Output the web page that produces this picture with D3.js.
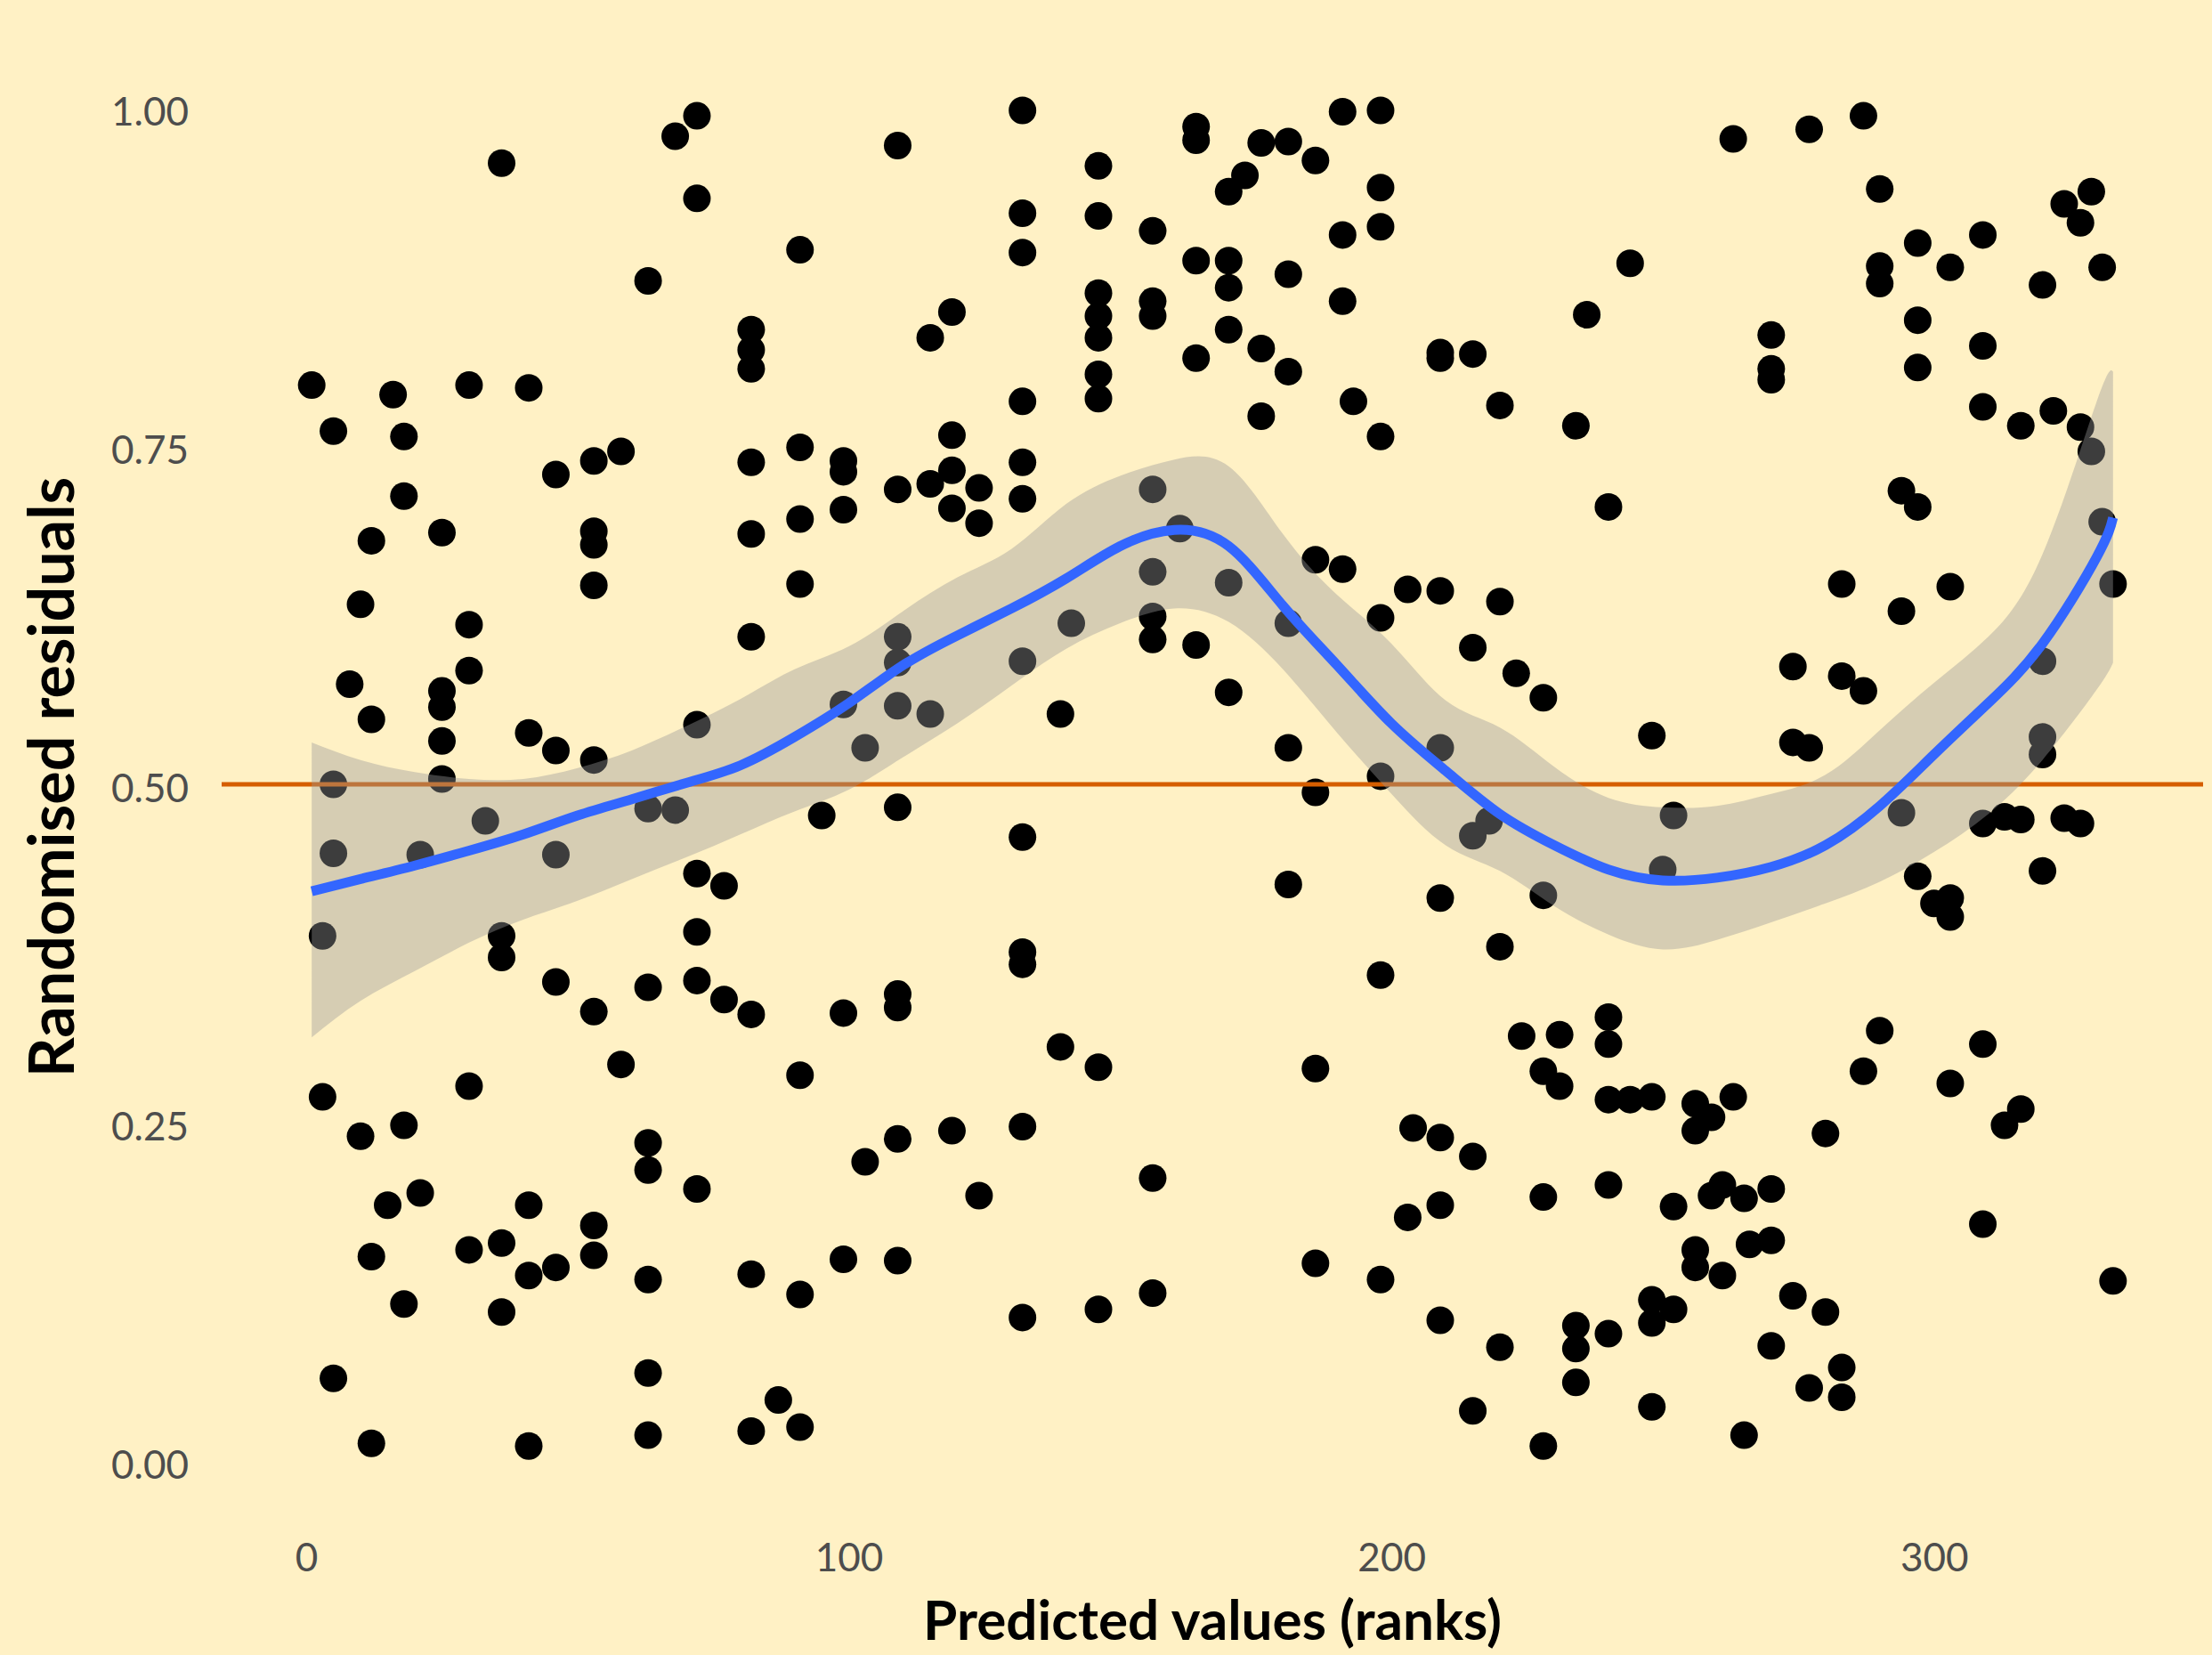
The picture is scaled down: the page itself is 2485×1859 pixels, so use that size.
<!DOCTYPE html>
<html>
<head>
<meta charset="utf-8">
<script src="https://cdn.jsdelivr.net/npm/d3@7"></script>
<style>
  body { margin: 0; background: #fff1c5; }
  svg { display: block; }
  .tick text { fill: #4d4d4d; font-family: "Lato", "Noto Sans", sans-serif; }
  .axisTitle { font-family: "Lato", "Noto Sans", sans-serif; font-weight: 700; fill: #000; }
</style>
</head>
<body>
<div id="chart"></div>
<script>
// residual columns: [rank of predicted value, [randomised residuals at that rank]]
var residColumns = [
  [1, [0.795]], [3, [0.388, 0.269]], [5, [0.761, 0.500, 0.449, 0.061]], [8, [0.574]],
  [10, [0.633, 0.240]], [12, [0.680, 0.548, 0.151, 0.013]], [15, [0.189]], [16, [0.788]],
  [18, [0.757, 0.713, 0.248, 0.116]], [21, [0.448, 0.198]],
  [25, [0.686, 0.569, 0.557, 0.532, 0.504]], [30, [0.795, 0.618, 0.584, 0.277, 0.156]],
  [33, [0.473]], [36, [0.959, 0.388, 0.372, 0.161, 0.110]],
  [41, [0.793, 0.538, 0.189, 0.137, 0.011]], [46, [0.729, 0.525, 0.448, 0.354, 0.143]],
  [53, [0.739, 0.687, 0.677, 0.647, 0.518, 0.332, 0.174, 0.152]], [58, [0.746, 0.293]],
  [63, [0.872, 0.482, 0.350, 0.235, 0.215, 0.134, 0.065, 0.019]], [68, [0.979, 0.481]],
  [72, [0.994, 0.933, 0.544, 0.434, 0.391, 0.355, 0.201]], [77, [0.425, 0.341]],
  [82, [0.836, 0.821, 0.807, 0.738, 0.685, 0.609, 0.330, 0.138, 0.022]], [87, [0.045]],
  [91, [0.895, 0.749, 0.696, 0.648, 0.285, 0.123, 0.025]], [95, [0.477]],
  [99, [0.739, 0.731, 0.703, 0.559, 0.331, 0.149]], [103, [0.527, 0.221]],
  [109, [0.972, 0.718, 0.609, 0.590, 0.558, 0.483, 0.345, 0.335, 0.238, 0.148]],
  [115, [0.830, 0.722, 0.552]], [119, [0.849, 0.758, 0.732, 0.704, 0.244]],
  [124, [0.719, 0.693, 0.196]],
  [132, [0.998, 0.922, 0.893, 0.783, 0.738, 0.711, 0.591, 0.461, 0.376, 0.367, 0.247, 0.106]],
  [139, [0.552, 0.306]], [141, [0.619]],
  [146, [0.957, 0.920, 0.863, 0.846, 0.830, 0.803, 0.785, 0.291, 0.112]],
  [156, [0.909, 0.857, 0.846, 0.718, 0.657, 0.624, 0.607, 0.209, 0.124]], [161, [0.689]],
  [164, [0.986, 0.976, 0.887, 0.815, 0.603]], [170, [0.938, 0.887, 0.867, 0.836, 0.649, 0.568]],
  [173, [0.950]], [176, [0.974, 0.822, 0.772]], [181, [0.975, 0.877, 0.805, 0.619, 0.527, 0.426]],
  [186, [0.961, 0.666, 0.494, 0.290, 0.146]], [191, [0.997, 0.906, 0.857, 0.659]], [193, [0.783]],
  [198, [0.998, 0.941, 0.912, 0.757, 0.623, 0.506, 0.359, 0.134]], [203, [0.644, 0.180]],
  [204, [0.246]], [209, [0.819, 0.815, 0.643, 0.527, 0.416, 0.239, 0.189, 0.104]],
  [215, [0.818, 0.601, 0.462, 0.225, 0.037]], [218, [0.473]], [220, [0.780, 0.635, 0.380, 0.084]],
  [223, [0.582]], [224, [0.314]], [228, [0.564, 0.418, 0.288, 0.195, 0.011]], [231, [0.315, 0.277]],
  [234, [0.765, 0.100, 0.083, 0.058]], [236, [0.847]], [240, [0.705, 0.328, 0.308, 0.267, 0.204, 0.094]],
  [244, [0.885, 0.267]], [248, [0.536, 0.269, 0.119, 0.102, 0.040]], [250, [0.437]],
  [252, [0.477, 0.188, 0.112]], [256, [0.264, 0.244, 0.156, 0.143]], [259, [0.254, 0.196]],
  [261, [0.204, 0.137]], [263, [0.977, 0.269]], [265, [0.194, 0.019]], [266, [0.160]],
  [270, [0.832, 0.807, 0.799, 0.201, 0.163, 0.085]], [274, [0.587, 0.531, 0.122]],
  [277, [0.984, 0.527, 0.054]], [280, [0.242, 0.110]], [283, [0.648, 0.580, 0.069, 0.047]],
  [287, [0.994, 0.569, 0.288]], [290, [0.940, 0.883, 0.870, 0.318]], [294, [0.717, 0.628, 0.479]],
  [297, [0.900, 0.843, 0.808, 0.705, 0.432]], [300, [0.412]], [303, [0.882, 0.646, 0.416, 0.402, 0.279]],
  [309, [0.906, 0.824, 0.779, 0.471, 0.308, 0.175]], [313, [0.476, 0.248]], [316, [0.765, 0.474, 0.260]],
  [320, [0.869, 0.591, 0.535, 0.522, 0.436]], [322, [0.776]], [324, [0.929, 0.475]],
  [327, [0.915, 0.764, 0.471]], [329, [0.938, 0.746]], [331, [0.882, 0.694]], [333, [0.648, 0.133]]
];

// smoother (fitted curve with its confidence band)
var smoothX     = [1, 10, 20, 30, 40, 50, 60, 70, 80, 90, 100, 110, 120, 130, 140, 150, 160, 170, 180, 190, 200, 210, 220, 230, 240, 250, 260, 270, 280, 290, 300, 310, 320, 330, 333];
var smoothFit   = [0.421, 0.430, 0.440, 0.451, 0.463, 0.477, 0.489, 0.501, 0.514, 0.535, 0.560, 0.588, 0.610, 0.630, 0.652, 0.676, 0.688, 0.676, 0.632, 0.588, 0.545, 0.510, 0.478, 0.455, 0.437, 0.429, 0.431, 0.439, 0.455, 0.484, 0.522, 0.560, 0.604, 0.668, 0.697];
var smoothLower = [0.313, 0.340, 0.362, 0.383, 0.400, 0.414, 0.430, 0.446, 0.463, 0.480, 0.496, 0.520, 0.545, 0.573, 0.600, 0.619, 0.630, 0.620, 0.585, 0.538, 0.493, 0.455, 0.436, 0.410, 0.389, 0.378, 0.385, 0.398, 0.412, 0.428, 0.450, 0.478, 0.518, 0.570, 0.590];
var smoothUpper = [0.531, 0.518, 0.509, 0.504, 0.504, 0.512, 0.525, 0.543, 0.563, 0.585, 0.602, 0.628, 0.653, 0.674, 0.707, 0.728, 0.740, 0.735, 0.685, 0.640, 0.604, 0.562, 0.542, 0.513, 0.490, 0.483, 0.484, 0.493, 0.507, 0.540, 0.575, 0.609, 0.670, 0.783, 0.805];

var refLine = 0.5;
var xTicks = [0, 100, 200, 300];
var yTicks = [0, 0.25, 0.5, 0.75, 1];

var svgWidth = 2485;
var svgHeight = 1859;

var panel = { left: 249, right: 2475, top: 45, bottom: 1717 };

var svg = d3.select("#chart")
  .append("svg")
  .attr("width", svgWidth)
  .attr("height", svgHeight);

svg.append("rect")
  .attr("width", svgWidth)
  .attr("height", svgHeight)
  .attr("fill", "#fff1c5");

// flatten the columns into points
var points = [];
residColumns.forEach(function(col) {
  col[1].forEach(function(v) { points.push({ rank: col[0], resid: v }); });
});

var smooth = smoothX.map(function(d, i) {
  return { x: d, fit: smoothFit[i], lo: smoothLower[i], hi: smoothUpper[i] };
});

// ggplot style 5% expansion on both axes
var xExt = d3.extent(points, d => d.rank);
var xPad = (xExt[1] - xExt[0]) * 0.05;
var xScale = d3.scaleLinear()
  .domain([xExt[0] - xPad, xExt[1] + xPad])
  .range([panel.left, panel.right]);

var yScale = d3.scaleLinear()
  .domain([-0.05, 1.05])
  .range([panel.bottom, panel.top]);

// points
svg.append("g").selectAll("circle")
  .data(points)
  .enter()
  .append("circle")
  .attr("cx", d => xScale(d.rank))
  .attr("cy", d => yScale(d.resid))
  .attr("r", 15.5)
  .attr("fill", "#000");

// reference line at 0.5
svg.append("line")
  .attr("x1", panel.left)
  .attr("x2", panel.right)
  .attr("y1", yScale(refLine))
  .attr("y2", yScale(refLine))
  .attr("stroke", "#d55e00")
  .attr("stroke-width", 5);

// confidence band
var band = d3.area()
  .x(d => xScale(d.x))
  .y0(d => yScale(d.lo))
  .y1(d => yScale(d.hi))
  .curve(d3.curveNatural);

svg.append("path")
  .datum(smooth)
  .attr("d", band)
  .attr("fill", "#999999")
  .attr("fill-opacity", 0.4);

// smoothed line
var fitLine = d3.line()
  .x(d => xScale(d.x))
  .y(d => yScale(d.fit))
  .curve(d3.curveNatural);

svg.append("path")
  .datum(smooth)
  .attr("d", fitLine)
  .attr("fill", "none")
  .attr("stroke", "#3366ff")
  .attr("stroke-width", 11);

// axes (labels only, no lines)
var xAxis = svg.append("g")
  .attr("transform", `translate(0, ${panel.bottom})`)
  .call(d3.axisBottom(xScale).tickValues(xTicks).tickSize(0).tickPadding(17));

var yAxis = svg.append("g")
  .attr("transform", `translate(${panel.left}, 0)`)
  .call(d3.axisLeft(yScale).tickValues(yTicks).tickFormat(d3.format(".2f")).tickSize(0).tickPadding(37));

xAxis.select(".domain").remove();
yAxis.select(".domain").remove();
svg.selectAll(".tick text").attr("font-size", 44);
yAxis.selectAll(".tick text").attr("dy", "0.45em");

svg.append("text")
  .attr("class", "axisTitle")
  .attr("x", (panel.left + panel.right) / 2)
  .attr("y", 1842)
  .attr("text-anchor", "middle")
  .attr("font-size", 62)
  .text("Predicted values (ranks)");

svg.append("text")
  .attr("class", "axisTitle")
  .attr("transform", `translate(83, ${(panel.top + panel.bottom) / 2 - 8})rotate(-90)`)
  .attr("text-anchor", "middle")
  .attr("font-size", 70)
  .text("Randomised residuals");
</script>
</body>
</html>
